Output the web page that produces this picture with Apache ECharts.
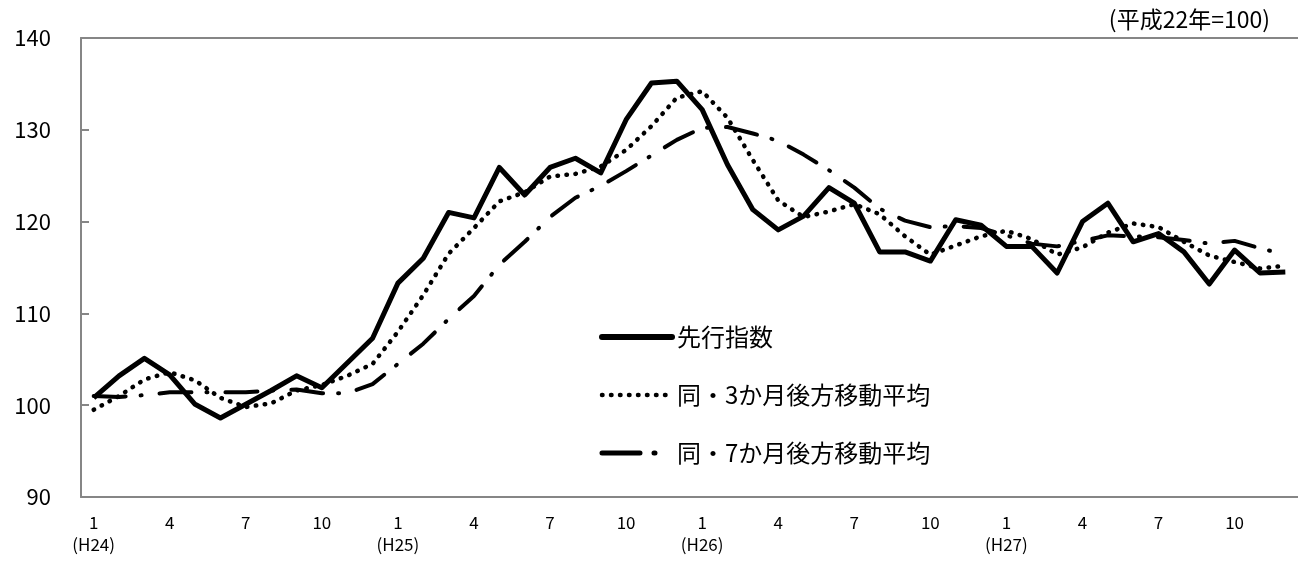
<!DOCTYPE html>
<html>
<head>
<meta charset="utf-8">
<script src="https://cdn.jsdelivr.net/npm/echarts@6/dist/echarts.min.js"></script>
<style>
html,body{margin:0;padding:0;background:#fff;}
#chart{width:1298px;height:562px;}
</style>
</head>
<body>
<div id="chart"></div>
<script>
// Months Jan H24 .. Dec H27
var months = [1,2,3,4,5,6,7,8,9,10,11,12,
              1,2,3,4,5,6,7,8,9,10,11,12,
              1,2,3,4,5,6,7,8,9,10,11,12,
              1,2,3,4,5,6,7,8,9,10,11,12];
var yearLabels = ['H24','H25','H26','H27'];
var seriesNames = ['先行指数','同・3か月後方移動平均','同・7か月後方移動平均'];
var leadIndex = [100.8,103.2,105.1,103.3,100.1,98.6,100.1,101.6,103.2,101.9,104.6,107.3,
                 113.3,116.0,121.0,120.4,125.9,122.9,125.9,126.9,125.3,131.1,135.1,135.3,
                 132.2,126.2,121.3,119.1,120.6,123.7,122.0,116.7,116.7,115.7,120.2,119.6,
                 117.3,117.3,114.4,120.0,122.0,117.8,118.7,116.7,113.2,116.9,114.4,114.5];
var ma3 = [99.5,101.0,102.8,103.6,102.7,100.8,99.8,100.2,101.6,102.2,103.2,104.5,
           108.0,112.0,116.5,119.3,122.2,123.2,124.9,125.2,126.0,127.8,130.4,133.5,
           134.2,131.3,126.7,122.3,120.5,121.1,121.9,120.8,118.4,116.4,117.4,118.4,
           119.0,118.1,116.4,117.2,118.8,119.8,119.4,117.8,116.3,115.6,114.9,115.2];
var ma7 = [101.0,100.9,101.1,101.4,101.4,101.4,101.4,101.6,101.7,101.3,101.3,102.3,
           104.5,106.7,109.4,111.9,115.3,117.8,120.5,122.6,123.9,125.5,127.2,128.9,
           130.2,130.3,129.6,128.8,127.3,125.6,123.7,121.4,120.1,119.4,119.5,119.3,
           118.5,117.6,117.3,117.9,118.5,118.4,118.3,118.0,117.6,117.9,117.1,116.4];
var unitLabel = '(平成22年=100)';

var categories = months.map(function(m, i){
  var y = Math.floor(i / 12);
  return m === 1 ? m + '\n(' + yearLabels[y] + ')' : String(m);
});

var FONT = '"Noto Sans CJK JP", "Noto Sans", sans-serif';
var chart = echarts.init(document.getElementById('chart'));
chart.setOption({
  animation: false,
  backgroundColor: '#fff',
  textStyle: { fontFamily: FONT, color: '#000' },
  title: {
    text: unitLabel,
    right: 23, top: 3,
    textStyle: { fontSize: 23, fontWeight: 'normal', color: '#000', fontFamily: FONT }
  },
  legend: {
    data: [
      { name: seriesNames[0], lineStyle: { width: 6, type: 'solid', cap: 'round' } },
      { name: seriesNames[1], lineStyle: { width: 4.5, type: [0.5, 8.5], cap: 'round' } },
      { name: seriesNames[2], lineStyle: { width: 5, type: [38, 14, 1, 30], cap: 'round' } }
    ],
    orient: 'vertical',
    left: 594, top: 320,
    itemWidth: 70, itemHeight: 24, itemGap: 34,
    itemStyle: { opacity: 0 },
    textStyle: { fontSize: 24, color: '#000', fontFamily: FONT }
  },
  grid: { left: 81, top: 38, width: 1224, height: 459, containLabel: false },
  xAxis: [{
    type: 'category',
    data: categories,
    boundaryGap: true,
    axisLine: { show: true, lineStyle: { color: '#868686', width: 2 } },
    axisTick: { show: false },
    axisLabel: { interval: 2, fontSize: 17, color: '#000', lineHeight: 22, margin: 15, fontFamily: FONT }
  }, {
    type: 'category',
    position: 'top',
    data: categories,
    axisLine: { show: true, lineStyle: { color: '#868686', width: 2 } },
    axisTick: { show: false },
    axisLabel: { show: false }
  }],
  yAxis: {
    type: 'value',
    min: 90, max: 140, interval: 10,
    axisLine: { show: true, lineStyle: { color: '#868686', width: 2 } },
    axisTick: { show: true, inside: true, length: 8, lineStyle: { color: '#868686', width: 2 } },
    splitLine: { show: false },
    axisLabel: { fontSize: 22, color: '#000', margin: 30, fontFamily: FONT }
  },
  series: [{
    name: seriesNames[0], type: 'line', data: leadIndex, symbol: 'none',
    lineStyle: { color: '#000', width: 5, join: 'round' },
    itemStyle: { color: '#000' }
  }, {
    name: seriesNames[1], type: 'line', data: ma3, symbol: 'none',
    lineStyle: { color: '#000', width: 4.5, type: [0.5, 8.5], cap: 'round' },
    itemStyle: { color: '#000' }
  }, {
    name: seriesNames[2], type: 'line', data: ma7, symbol: 'none',
    lineStyle: { color: '#000', width: 4, type: [32, 15, 1, 18], cap: 'round' },
    itemStyle: { color: '#000' }
  }]
});
</script>
</body>
</html>
